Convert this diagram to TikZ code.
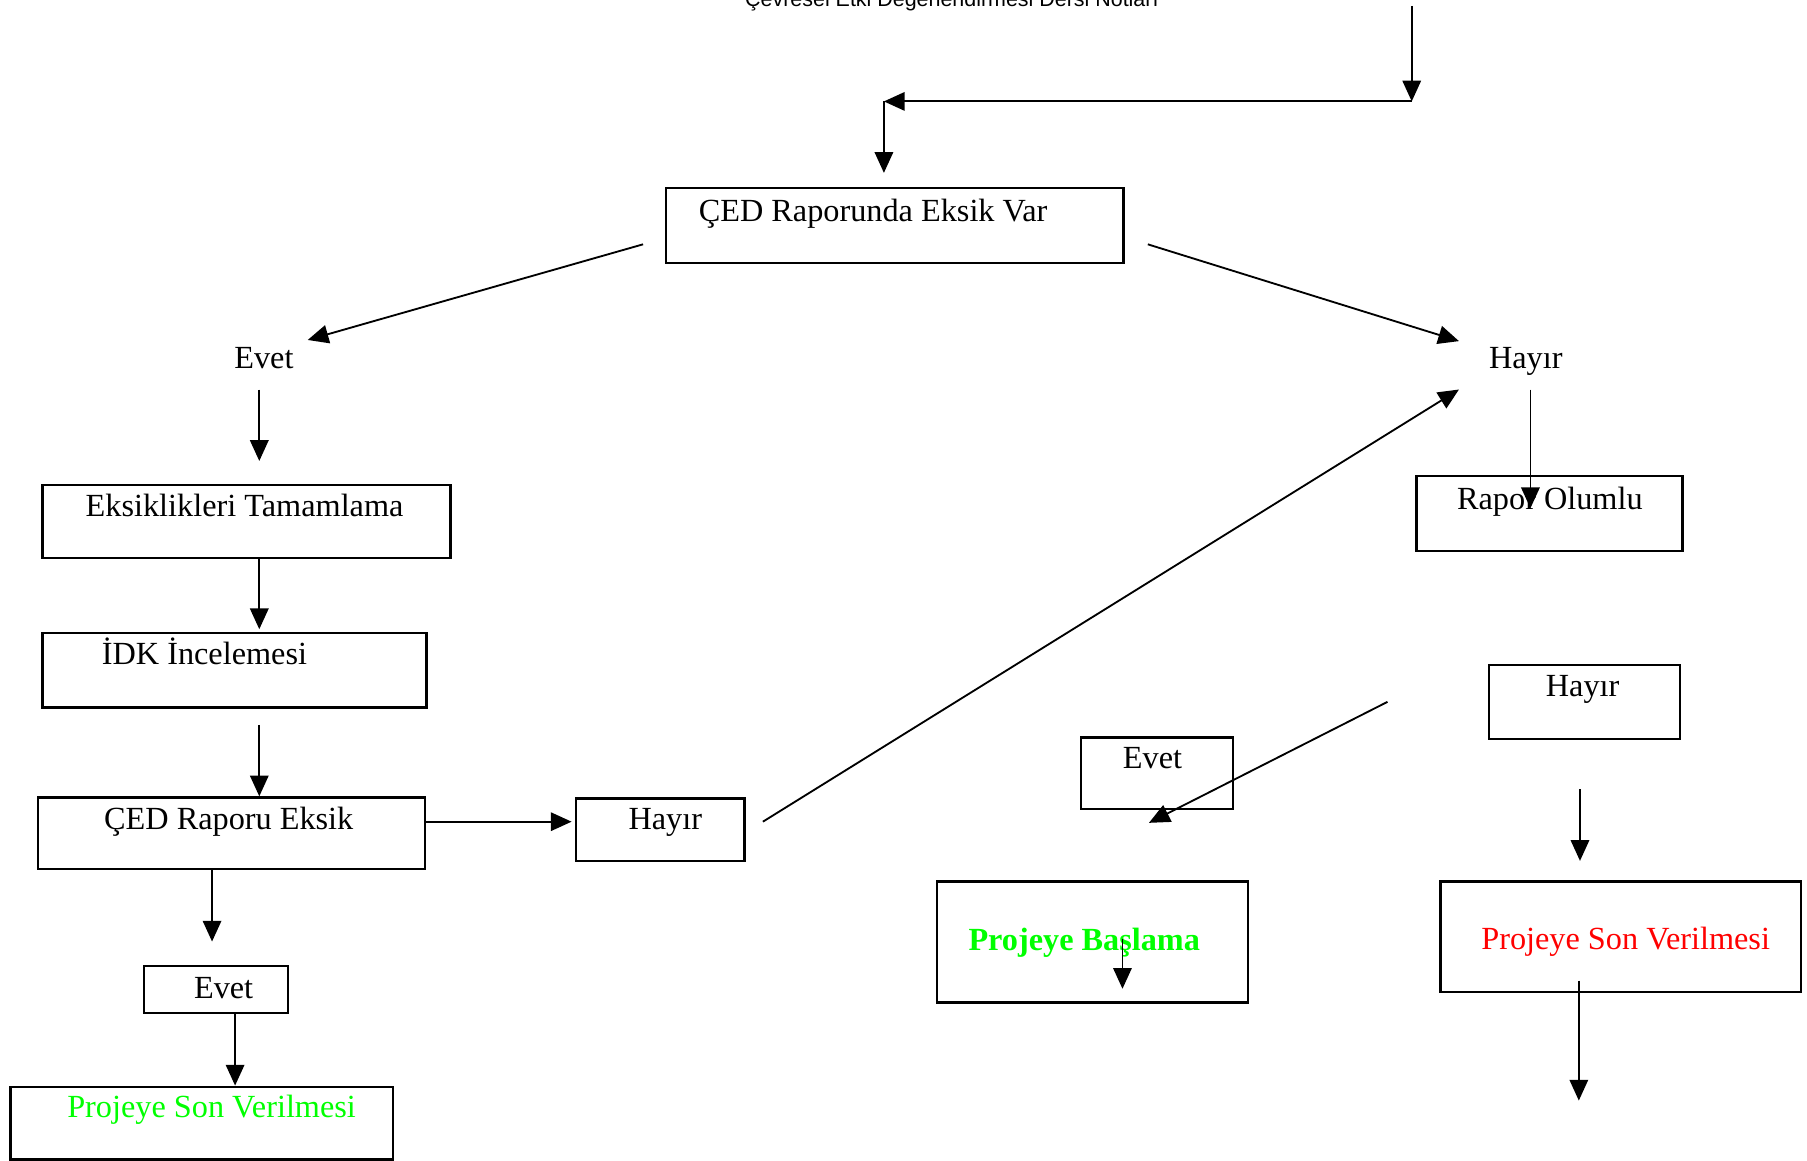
\documentclass[tikz,border=0pt]{standalone}
\usepackage{fontspec}
\setmainfont{Liberation Serif}
\newfontfamily\titlefont{Liberation Sans}
\usetikzlibrary{arrows.meta}
\definecolor{pgreen}{RGB}{0,255,0}
\definecolor{pred}{RGB}{255,0,0}
\newcommand\bx[5]{\node[box, minimum width={(#4-#2)*0.5pt}, minimum height={(#5-#3)*0.5pt}] (#1) at ({(#2+#4)/2},{(#3+#5)/2}) {};}
\begin{document}
\begin{tikzpicture}[x=0.5pt,y=-0.5pt,
  box/.style={draw, line width=1pt, inner sep=0pt},
  lbl/.style={anchor=base west, inner sep=0pt, font=\fontsize{14}{16}\selectfont},
  arr/.style={-{Triangle[length=9pt,width=8pt]}, line width=0.8pt}]
\useasboundingbox (0,0) rectangle (1568,1007);
% title (cut off at top, as in the reference)
\node[anchor=base, inner sep=0pt, font=\titlefont\fontsize{9.3}{11}\selectfont] (title) at (826,6) {Çevresel Etki Değerlendirmesi Dersi Notları};
% boxes
\bx{b1}{578}{163}{975}{228}
\bx{b2}{37}{421}{391}{484}
\bx{b3}{37}{549}{370}{614}
\bx{b4}{33}{692}{369}{754}
\bx{b5}{500}{693}{646}{747}
\bx{b6}{125}{838}{250}{879}
\bx{b7}{9}{943}{341}{1006}
\bx{b8}{1229}{413}{1460}{478}
\bx{b9}{1292}{577}{1458}{641}
\bx{b10}{938}{640}{1070}{702}
\bx{b11}{813}{765}{1083}{870}
\bx{b12}{1250}{765}{1563}{861}
% texts
\node[lbl] (t1) at (606,192) {ÇED Raporunda Eksik Var};
\node[lbl, anchor=base] (evet1) at (229,320) {Evet};
\node[lbl, anchor=base] (hayir1) at (1324,320) {Hayır};
\node[lbl] (t2) at (74,448) {Eksiklikleri Tamamlama};
\node[lbl] (t3) at (88,577) {İDK İncelemesi};
\node[lbl] (t4) at (90,720) {ÇED Raporu Eksik};
\node[lbl] (t5) at (545,720) {Hayır};
\node[lbl] (t6) at (168,866) {Evet};
\node[lbl, text=pgreen] (t7) at (58,970) {Projeye Son Verilmesi};
\node[lbl] (t8) at (1264,442) {Rapor Olumlu};
\node[lbl] (t9) at (1341,604) {Hayır};
\node[lbl] (t10) at (974,667) {Evet};
\node[lbl, text=pgreen, font=\fontsize{14}{16}\selectfont\bfseries] (t11) at (840,825) {Projeye Başlama};
\node[lbl, text=pred] (t12) at (1285,824) {Projeye Son Verilmesi};
% connector end points
\coordinate (a1s) at (1225,5);   \coordinate (a1e) at (1225,88);
\coordinate (a2e) at (767,88);
\coordinate (a3e) at (767,150);
\coordinate (l1s) at (558,212);  \coordinate (l1e) at (267,295);
\coordinate (l2s) at (996,212);  \coordinate (l2e) at (1266,296);
\coordinate (a4s) at (225,338);  \coordinate (a4e) at (225,400);
\coordinate (a5s) at (225,484);  \coordinate (a5e) at (225,546);
\coordinate (a6s) at (225,629);  \coordinate (a6e) at (225,691);
\coordinate (a7s) at (370,713);  \coordinate (a7e) at (496,713);
\coordinate (l3s) at (662,713);  \coordinate (l3e) at (1266,338);
\coordinate (a8s) at (184,755);  \coordinate (a8e) at (184,817);
\coordinate (a9s) at (204,879);  \coordinate (a9e) at (204,942);
\coordinate (a10s) at (1328,338); \coordinate (a10e) at (1328,441);
\coordinate (l4s) at (1204,609); \coordinate (l4e) at (997,714);
\coordinate (a11s) at (974,815); \coordinate (a11e) at (974,858);
\coordinate (a12s) at (1371,685); \coordinate (a12e) at (1371,747);
\coordinate (a13s) at (1370,851); \coordinate (a13e) at (1370,955);
% connectors
\draw[arr] (a1s) -- (a1e);
\draw[arr] (a1e) -- (a2e);
\draw[arr] (a2e) -- (a3e);
\draw[arr] (l1s) -- (l1e);
\draw[arr] (l2s) -- (l2e);
\draw[arr] (a4s) -- (a4e);
\draw[arr] (a5s) -- (a5e);
\draw[arr] (a6s) -- (a6e);
\draw[arr] (a7s) -- (a7e);
\draw[arr] (l3s) -- (l3e);
\draw[arr] (a8s) -- (a8e);
\draw[arr] (a9s) -- (a9e);
\draw[arr] (a10s) -- (a10e);
\draw[arr] (l4s) -- (l4e);
\draw[arr] (a11s) -- (a11e);
\draw[arr] (a12s) -- (a12e);
\draw[arr] (a13s) -- (a13e);
\end{tikzpicture}
\end{document}
